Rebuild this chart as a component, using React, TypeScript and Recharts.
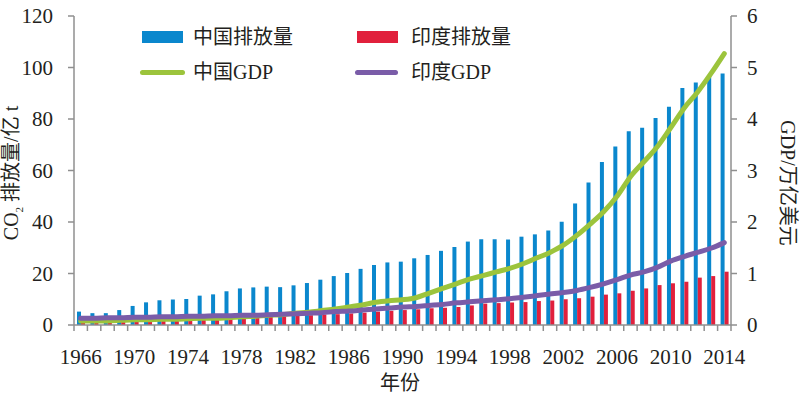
import { ComposedChart, Bar, Line, XAxis, YAxis } from "recharts";

// categories
const years = [
  "1966", "1967", "1968", "1969", "1970", "1971", "1972", "1973", "1974", "1975",
  "1976", "1977", "1978", "1979", "1980", "1981", "1982", "1983", "1984", "1985",
  "1986", "1987", "1988", "1989", "1990", "1991", "1992", "1993", "1994", "1995",
  "1996", "1997", "1998", "1999", "2000", "2001", "2002", "2003", "2004", "2005",
  "2006", "2007", "2008", "2009", "2010", "2011", "2012", "2013", "2014",
];

// CO2 排放量 (亿 t)
const chinaEmission = [
  5.2, 4.6, 4.6, 5.8, 7.4, 8.8, 9.6, 9.9, 10.1, 11.4,
  11.9, 13.1, 14.2, 14.6, 14.9, 14.7, 15.4, 16.3, 17.6, 19.0,
  20.2, 21.8, 23.3, 24.3, 24.6, 25.9, 27.2, 28.8, 30.3, 32.4,
  33.3, 33.3, 33.2, 34.3, 35.2, 36.7, 40.1, 47.2, 55.3, 63.3,
  69.3, 75.2, 76.6, 80.4, 84.8, 92.0, 94.2, 97.1, 97.7,
];
const indiaEmission = [
  1.6, 1.7, 1.8, 1.9, 2.0, 2.1, 2.2, 2.3, 2.4, 2.6,
  2.7, 2.8, 3.0, 3.0, 3.2, 3.3, 3.7, 3.8, 4.1, 4.2,
  4.5, 4.8, 5.2, 5.5, 5.8, 6.1, 6.5, 6.7, 7.0, 7.6,
  8.3, 8.5, 8.7, 8.9, 9.3, 9.5, 10.0, 10.4, 11.0, 11.8,
  12.3, 13.3, 14.2, 15.5, 16.2, 16.8, 18.4, 19.0, 20.7,
];

// GDP (万亿美元)
const chinaGdp = [
  0.08, 0.08, 0.08, 0.09, 0.10, 0.10, 0.11, 0.11, 0.12, 0.13,
  0.13, 0.14, 0.16, 0.17, 0.19, 0.20, 0.23, 0.25, 0.28, 0.31,
  0.35, 0.39, 0.44, 0.47, 0.49, 0.53, 0.62, 0.71, 0.80, 0.89,
  0.96, 1.03, 1.10, 1.19, 1.30, 1.41, 1.55, 1.74, 1.96, 2.20,
  2.50, 2.88, 3.17, 3.46, 3.83, 4.21, 4.52, 4.88, 5.27,
];
const indiaGdp = [
  0.13, 0.13, 0.14, 0.14, 0.15, 0.15, 0.16, 0.16, 0.17, 0.17,
  0.18, 0.18, 0.19, 0.19, 0.20, 0.21, 0.22, 0.23, 0.24, 0.26,
  0.27, 0.29, 0.31, 0.33, 0.35, 0.36, 0.38, 0.40, 0.43, 0.45,
  0.47, 0.49, 0.51, 0.54, 0.57, 0.60, 0.63, 0.67, 0.73, 0.80,
  0.88, 0.97, 1.03, 1.12, 1.24, 1.33, 1.41, 1.49, 1.60,
];

const xTickLabels = ["1966", "1970", "1974", "1978", "1982", "1986", "1990", "1994", "1998", "2002", "2006", "2010", "2014"];
const leftTicks = [0, 20, 40, 60, 80, 100, 120];
const rightTicks = [0, 1, 2, 3, 4, 5, 6];

const data = years.map((y, i) => ({
  year: y,
  cnCo2: chinaEmission[i],
  inCo2: indiaEmission[i],
  cnGdp: chinaGdp[i],
  inGdp: indiaGdp[i],
}));

const W = 800;
const H = 396;
const LEFT_W = 74;
const RIGHT_W = 69;
const BAND = (W - LEFT_W - RIGHT_W) / years.length;

const FONT = '"Liberation Serif", "Noto Sans CJK SC", serif';
const AXIS = "#8f8f8f";
const TEXT = "#231f20";

const BLUE = "#0a87cd";
const RED = "#e1203c";
const GREEN = "#9cc43c";
const PURPLE = "#7a5ca8";

const XTick = (props: any) => {
  const { x, y, payload, index } = props;
  const showLabel = xTickLabels.includes(payload.value);
  return (
    <g>
      <line x1={x - BAND / 2} x2={x - BAND / 2} y1={y} y2={y + 6} stroke={AXIS} strokeWidth={1.5} />
      {index === years.length - 1 && (
        <line x1={x + BAND / 2} x2={x + BAND / 2} y1={y} y2={y + 6} stroke={AXIS} strokeWidth={1.5} />
      )}
      {showLabel && (
        <text x={x} y={y + 39} textAnchor="middle" fontSize={21} fontFamily={FONT} fill={TEXT}>
          {payload.value}
        </text>
      )}
    </g>
  );
};

const legendText: React.CSSProperties = {
  position: "absolute",
  fontFamily: FONT,
  fontSize: 20,
  color: TEXT,
  lineHeight: "20px",
  whiteSpace: "nowrap",
};

export default function App() {
  return (
    <div style={{ position: "absolute", left: 0, top: 0, width: W, height: H, background: "#fff" }}>
      <ComposedChart
        width={W}
        height={H}
        data={data}
        margin={{ top: 16, right: 0, bottom: 0, left: 0 }}
        barGap={0}
      >
        <XAxis
          dataKey="year"
          height={H - 325}
          interval={0}
          tickSize={0}
          tickMargin={0}
          tickLine={false}
          axisLine={{ stroke: AXIS, strokeWidth: 1.5 }}
          tick={<XTick />}
        />
        <YAxis
          yAxisId="left"
          width={LEFT_W}
          domain={[0, 120]}
          ticks={leftTicks}
          tickSize={6}
          tickMargin={15}
          axisLine={{ stroke: AXIS, strokeWidth: 1.5 }}
          tickLine={{ stroke: AXIS, strokeWidth: 1.5 }}
          tick={{ fontSize: 21, fontFamily: FONT, fill: TEXT }}
        />
        <YAxis
          yAxisId="right"
          orientation="right"
          width={RIGHT_W}
          domain={[0, 6]}
          ticks={rightTicks}
          tickSize={6}
          tickMargin={10}
          axisLine={{ stroke: AXIS, strokeWidth: 1.5 }}
          tickLine={{ stroke: AXIS, strokeWidth: 1.5 }}
          tick={{ fontSize: 21, fontFamily: FONT, fill: TEXT }}
        />
        <Bar yAxisId="left" dataKey="cnCo2" fill={BLUE} barSize={4} isAnimationActive={false} />
        <Bar yAxisId="left" dataKey="inCo2" fill={RED} barSize={4} isAnimationActive={false} />
        <Line
          yAxisId="right"
          dataKey="cnGdp"
          type="monotone"
          stroke={GREEN}
          strokeWidth={5}
          dot={false}
          strokeLinecap="round"
          isAnimationActive={false}
        />
        <Line
          yAxisId="right"
          dataKey="inGdp"
          type="monotone"
          stroke={PURPLE}
          strokeWidth={5}
          dot={false}
          strokeLinecap="round"
          isAnimationActive={false}
        />
      </ComposedChart>

      {/* legend */}
      <div style={{ position: "absolute", left: 142, top: 31, width: 41, height: 12, background: BLUE }} />
      <div style={{ ...legendText, left: 193, top: 27 }}>中国排放量</div>
      <div style={{ position: "absolute", left: 357, top: 31, width: 41, height: 12, background: RED }} />
      <div style={{ ...legendText, left: 411, top: 27 }}>印度排放量</div>
      <div style={{ position: "absolute", left: 140, top: 70, width: 45, height: 5, borderRadius: 3, background: GREEN }} />
      <div style={{ ...legendText, left: 193, top: 62 }}>中国GDP</div>
      <div style={{ position: "absolute", left: 355, top: 70, width: 43, height: 5, borderRadius: 3, background: PURPLE }} />
      <div style={{ ...legendText, left: 411, top: 62 }}>印度GDP</div>

      {/* axis titles */}
      <div
        style={{
          ...legendText,
          left: 15,
          top: 173,
          transform: "translate(-50%, -50%) rotate(-90deg)",
        }}
      >
        CO<sub style={{ fontSize: 11 }}>2</sub> 排放量/亿 t
      </div>
      <div
        style={{
          ...legendText,
          left: 788,
          top: 183,
          transform: "translate(-50%, -50%) rotate(90deg)",
        }}
      >
        GDP/万亿美元
      </div>
      <div style={{ ...legendText, left: 400, top: 373, transform: "translateX(-50%)" }}>年份</div>
    </div>
  );
}
